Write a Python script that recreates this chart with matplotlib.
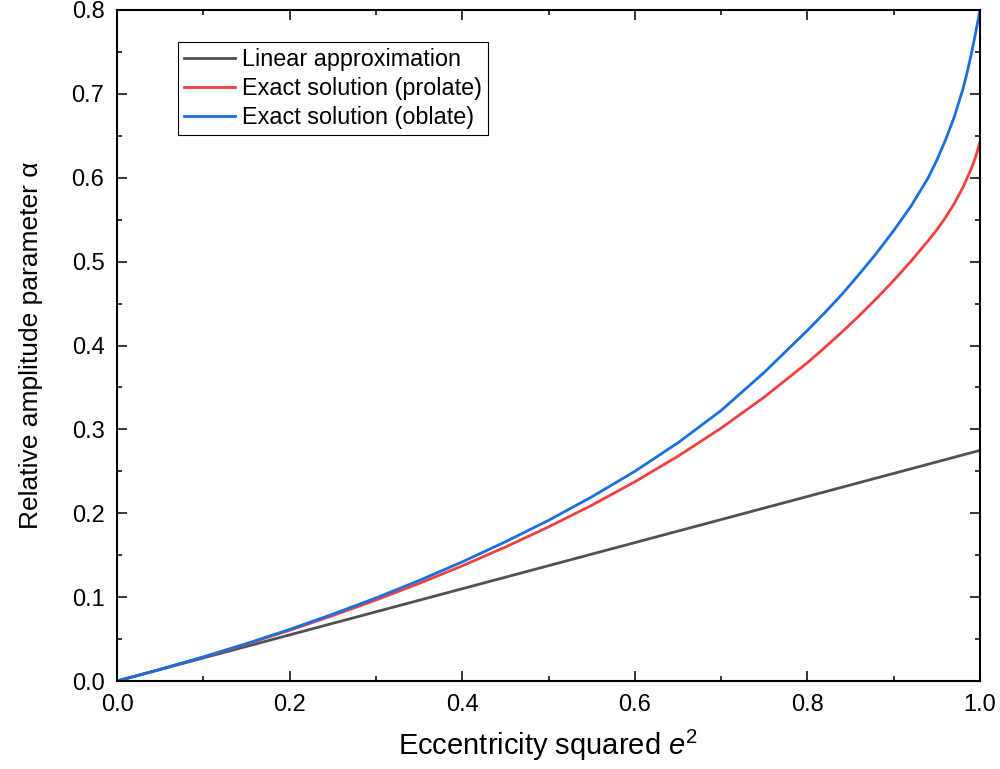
import matplotlib
matplotlib.use("Agg")
import matplotlib.pyplot as plt
from matplotlib.ticker import MultipleLocator

plt.rcParams['font.family'] = ['Liberation Sans', 'DejaVu Sans']
plt.rcParams['mathtext.fontset'] = 'custom'
plt.rcParams['mathtext.rm'] = 'Liberation Sans'
plt.rcParams['mathtext.it'] = 'Liberation Sans:italic'

# data
e2_linear = [0.0, 1.0]
alpha_linear = [0.0, 0.275]

e2_prolate = [0.0, 0.05, 0.1, 0.15, 0.2, 0.25, 0.3, 0.35, 0.4, 0.45, 0.5, 0.55, 0.6, 0.65, 0.7,
              0.75, 0.8, 0.82, 0.84, 0.86, 0.88, 0.9, 0.92, 0.94, 0.95, 0.96, 0.97, 0.98, 0.99,
              0.995, 1.0]
alpha_prolate = [0.0, 0.0139, 0.0285, 0.0440, 0.0605, 0.0780, 0.0965, 0.1163, 0.1373, 0.1597,
                 0.1837, 0.2095, 0.2375, 0.2680, 0.3015, 0.3385, 0.3795, 0.3975, 0.4160, 0.4355,
                 0.4560, 0.4775, 0.5005, 0.5250, 0.5380, 0.5525, 0.5690, 0.5880, 0.6110,
                 0.6250, 0.6430]

e2_oblate = [0.0, 0.05, 0.1, 0.15, 0.2, 0.25, 0.3, 0.35, 0.4, 0.45, 0.5, 0.55, 0.6, 0.65, 0.7,
             0.75, 0.8, 0.82, 0.84, 0.86, 0.88, 0.9, 0.92, 0.94, 0.95, 0.96, 0.97, 0.98, 0.985,
             0.99, 0.995, 1.0]
alpha_oblate = [0.0, 0.0139, 0.0287, 0.0446, 0.0615, 0.0797, 0.0990, 0.1198, 0.1420, 0.1660,
                0.1915, 0.2195, 0.2500, 0.2840, 0.3225, 0.3680, 0.4180, 0.4390, 0.4610, 0.4850,
                0.5100, 0.5370, 0.5660, 0.6000, 0.6210, 0.6450, 0.6720, 0.7050, 0.7250,
                0.7480, 0.7730, 0.8000]

labels = ["Linear approximation", "Exact solution (prolate)", "Exact solution (oblate)"]
colors = ["#515151", "#F14040", "#1A6FDF"]

fig = plt.figure(figsize=(10, 7.69), dpi=100)
ax = fig.add_axes([0.117, 0.1144, 0.863, 0.8726])

ax.plot(e2_linear, alpha_linear, color=colors[0], lw=2.0, label=labels[0])
ax.plot(e2_prolate, alpha_prolate, color=colors[1], lw=2.0, label=labels[1])
ax.plot(e2_oblate, alpha_oblate, color=colors[2], lw=2.0, label=labels[2])

ax.set_xlim(0, 1.0)
ax.set_ylim(0, 0.8)
ax.xaxis.set_major_locator(MultipleLocator(0.2))
ax.xaxis.set_minor_locator(MultipleLocator(0.1))
ax.yaxis.set_major_locator(MultipleLocator(0.1))
ax.yaxis.set_minor_locator(MultipleLocator(0.05))
ax.xaxis.set_major_formatter(lambda v, p: f"{v:.1f}")
ax.yaxis.set_major_formatter(lambda v, p: f"{v:.1f}")

ax.tick_params(which='both', direction='in', top=True, right=True, width=1.1, labelsize=17, pad=9)
ax.tick_params(which='major', length=7)
ax.tick_params(which='minor', length=3.6)
for s in ax.spines.values():
    s.set_linewidth(1.5)

ax.set_xlabel("Eccentricity squared $e^2$", fontsize=21)
ax.set_ylabel("Relative amplitude parameter α", fontsize=19)
ax.xaxis.set_label_coords(0.5, -0.0954)
ax.xaxis.label.set_va('center')
ax.yaxis.set_label_coords(-0.100, 0.5)
ax.yaxis.label.set_va('center')

leg = ax.legend(loc='upper left', bbox_to_anchor=(0.0707, 0.952), fontsize=16.8,
                frameon=True, fancybox=False, framealpha=1, edgecolor='black',
                handlelength=2.2, handletextpad=0.3, labelspacing=0.25,
                borderpad=0.25, borderaxespad=0)
leg.get_frame().set_linewidth(0.8)

plt.savefig("out.png", dpi=100)
